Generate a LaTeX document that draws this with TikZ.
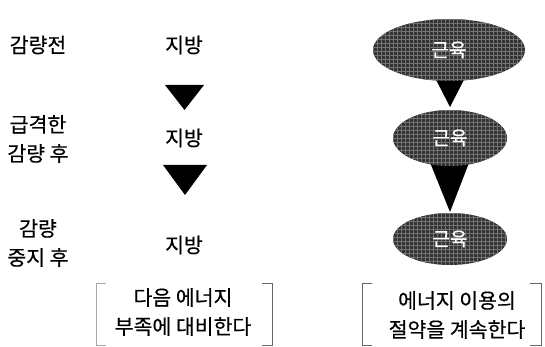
\documentclass[tikz,border=0pt]{standalone}
\usepackage{fontspec}
\setmainfont{Noto Sans CJK KR}[FakeBold=0.4]
\usetikzlibrary{shapes.geometric}
\begin{document}
\begin{tikzpicture}[x=1pt,y=-1pt,
  lbl/.style={font=\fontsize{20.5}{29}\selectfont, align=center, inner sep=0},
  muscle/.style={ellipse, fill=black!80, text=white, inner sep=0,
    font=\fontsize{19}{20}\selectfont,
    path picture={\draw[black!55, line width=0.7]
      \foreach \k in {0,4,...,160} {
        ([xshift=\k pt]path picture bounding box.north west) -- ++(0,80)
        ([yshift=-\k pt]path picture bounding box.north west) -- ++(160,0)};}},
  tri/.style={fill=black},
  brk/.style={draw=black!60, line width=0.9}]
\useasboundingbox (0,0) rectangle (545,347);
% left column labels
\node[lbl] (s1) at (38,45) {감량전};
\node[lbl] (s2) at (38,139) {급격한\\감량 후};
\node[lbl] (s3) at (38,243) {감량\\중지 후};
% fat
\node[lbl] (f1) at (184,45) {지방};
\node[lbl] (f2) at (184,138) {지방};
\node[lbl] (f3) at (184,245) {지방};
\fill[tri] (165,85) -- (204,85) -- (184.5,110) -- cycle;
\fill[tri] (163,165) -- (207,165) -- (185,195) -- cycle;
% muscle
\fill[tri] (431,70) -- (469,70) -- (450,107) -- cycle;
\fill[tri] (427,155) -- (472,155) -- (450,212) -- cycle;
\node[muscle, minimum width=152, minimum height=62] (m1) at (449,50) {근육};
\node[muscle, minimum width=114, minimum height=56] (m2) at (450,138) {근육};
\node[muscle, minimum width=114, minimum height=52] (m3) at (450,239) {근육};
% bottom boxes
\node[lbl] (b1) at (183,312) {다음 에너지\\부족에 대비한다};
\node[lbl] (b2) at (457,315) {에너지 이용의\\절약을 계속한다};
\draw[brk, black!35] (106,283) -- (96,283) -- (96,345) -- (106,345);
\draw[brk] (262,283) -- (272,283) -- (272,345) -- (262,345);
\draw[brk] (372,283) -- (362,283) -- (362,345) -- (372,345);
\draw[brk] (530,283) -- (541,283) -- (541,345) -- (530,345);
\end{tikzpicture}
\end{document}
